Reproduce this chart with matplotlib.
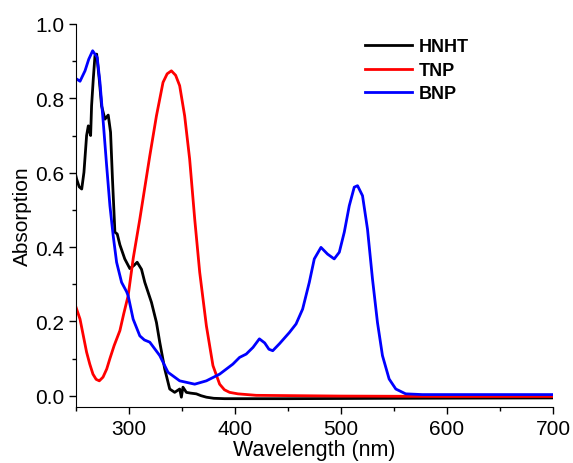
import matplotlib
matplotlib.use("Agg")
from matplotlib import pyplot as plt
from matplotlib.ticker import MultipleLocator

plt.rcParams['font.family'] = ['Liberation Sans', 'DejaVu Sans']

# absorption spectra
wl_hnht = [250, 250.6, 253, 255.4, 257.5, 260, 261.6, 263.8, 264.7, 266.3, 267.9, 269.5,
           271.9, 274.1, 277.3, 280.4, 282.6, 284.4, 286.7, 288.9, 291.4, 296, 300.8,
           304.5, 307.7, 311.8, 314.9, 321.2, 325.9, 329, 333.7, 338.4, 343.1, 347.8,
           349.4, 350.9, 354.1, 358, 363.5, 368, 373, 380, 390, 450, 550, 700]
abs_hnht = [0.59, 0.583, 0.562, 0.556, 0.601, 0.70, 0.726, 0.70, 0.78, 0.852, 0.915, 0.919,
            0.852, 0.78, 0.744, 0.755, 0.709, 0.583, 0.44, 0.435, 0.406, 0.368, 0.342,
            0.35, 0.359, 0.34, 0.305, 0.251, 0.197, 0.144, 0.072, 0.018, 0.009, 0.018,
            -0.004, 0.023, 0.009, 0.007, 0.005, 0.0, -0.004, -0.007, -0.008, -0.008, -0.007, -0.006]

wl_tnp = [250, 253.8, 257, 260, 263, 266, 269, 272, 275.5, 279, 282, 286, 291.4, 295, 299.2,
          304, 310.2, 314.9, 319.6, 325.9, 332.1, 336, 340, 344, 347.8, 352.5, 357.2, 362,
          366.7, 373, 379.2, 385.5, 390, 394.9, 402.7, 420, 500, 600, 700]
abs_tnp = [0.238, 0.206, 0.16, 0.117, 0.085, 0.058, 0.044, 0.04, 0.05, 0.072, 0.1, 0.135,
           0.175, 0.22, 0.269, 0.37, 0.475, 0.56, 0.645, 0.753, 0.843, 0.866, 0.874, 0.862,
           0.834, 0.753, 0.637, 0.475, 0.332, 0.188, 0.081, 0.031, 0.016, 0.009, 0.005,
           0.001, -0.001, -0.002, -0.002]

wl_bnp = [250, 250.6, 253.8, 258.5, 262, 265.7, 270, 272.6, 275.7, 278.9, 282, 285.1,
          288.3, 293, 297.7, 299.2, 303.9, 310.2, 314.5, 319.6, 329, 336.8, 347.8, 362,
          373, 385.5, 398, 404.3, 410.6, 417, 423, 428, 432, 435.6, 442, 451.3, 457.6,
          463.8, 470.1, 474.8, 481.1, 487.3, 493.6, 498.4, 503.1, 507.8, 512.5, 515.6,
          520.3, 525, 529.7, 534.4, 539.1, 545.4, 551.7, 561, 576.7, 620, 700]
abs_bnp = [0.852, 0.852, 0.846, 0.874, 0.905, 0.928, 0.91, 0.843, 0.736, 0.619, 0.511,
           0.43, 0.359, 0.305, 0.28, 0.269, 0.206, 0.161, 0.15, 0.144, 0.108, 0.063, 0.04,
           0.031, 0.04, 0.058, 0.085, 0.103, 0.112, 0.13, 0.153, 0.142, 0.125, 0.121, 0.14,
           0.17, 0.193, 0.233, 0.305, 0.368, 0.399, 0.381, 0.368, 0.386, 0.44, 0.511, 0.561,
           0.565, 0.538, 0.448, 0.314, 0.197, 0.108, 0.045, 0.018, 0.005, 0.003, 0.003, 0.003]

fig = plt.figure(figsize=(5.73, 4.64), dpi=100)
ax = fig.add_axes([76/573, 1-408/464, (553-76)/573, (408-25)/464])

ax.plot(wl_hnht, abs_hnht, color="black", lw=2, label="HNHT")
ax.plot(wl_tnp, abs_tnp, color="red", lw=2, label="TNP")
ax.plot(wl_bnp, abs_bnp, color="blue", lw=2, label="BNP")

ax.set_xlim(250, 700)
ax.set_ylim(-0.0304, 1.0)
ax.xaxis.set_major_locator(MultipleLocator(100))
ax.xaxis.set_minor_locator(MultipleLocator(50))
ax.yaxis.set_minor_locator(MultipleLocator(0.1))
ax.set_yticks([0.0, 0.2, 0.4, 0.6, 0.8, 1.0])
ax.set_yticklabels(["0.0", "0.2", "0.4", "0.6", "0.8", "1.0"])
ax.spines["top"].set_visible(False)
ax.spines["right"].set_visible(False)
ax.tick_params(which="major", direction="out", length=5, width=1, labelsize=15)
ax.tick_params(which="minor", direction="out", length=3, width=1)

ax.set_xlabel("Wavelength (nm)", fontsize=15.5, labelpad=1)
ax.set_ylabel("Absorption", fontsize=15, labelpad=2)

leg = ax.legend(loc="upper left", bbox_to_anchor=(0.572, 1.005), frameon=False,
                prop={"weight": "bold", "size": 13}, handlelength=2.6,
                labelspacing=0.36, handletextpad=0.35)

fig.savefig("out.png", dpi=100)
